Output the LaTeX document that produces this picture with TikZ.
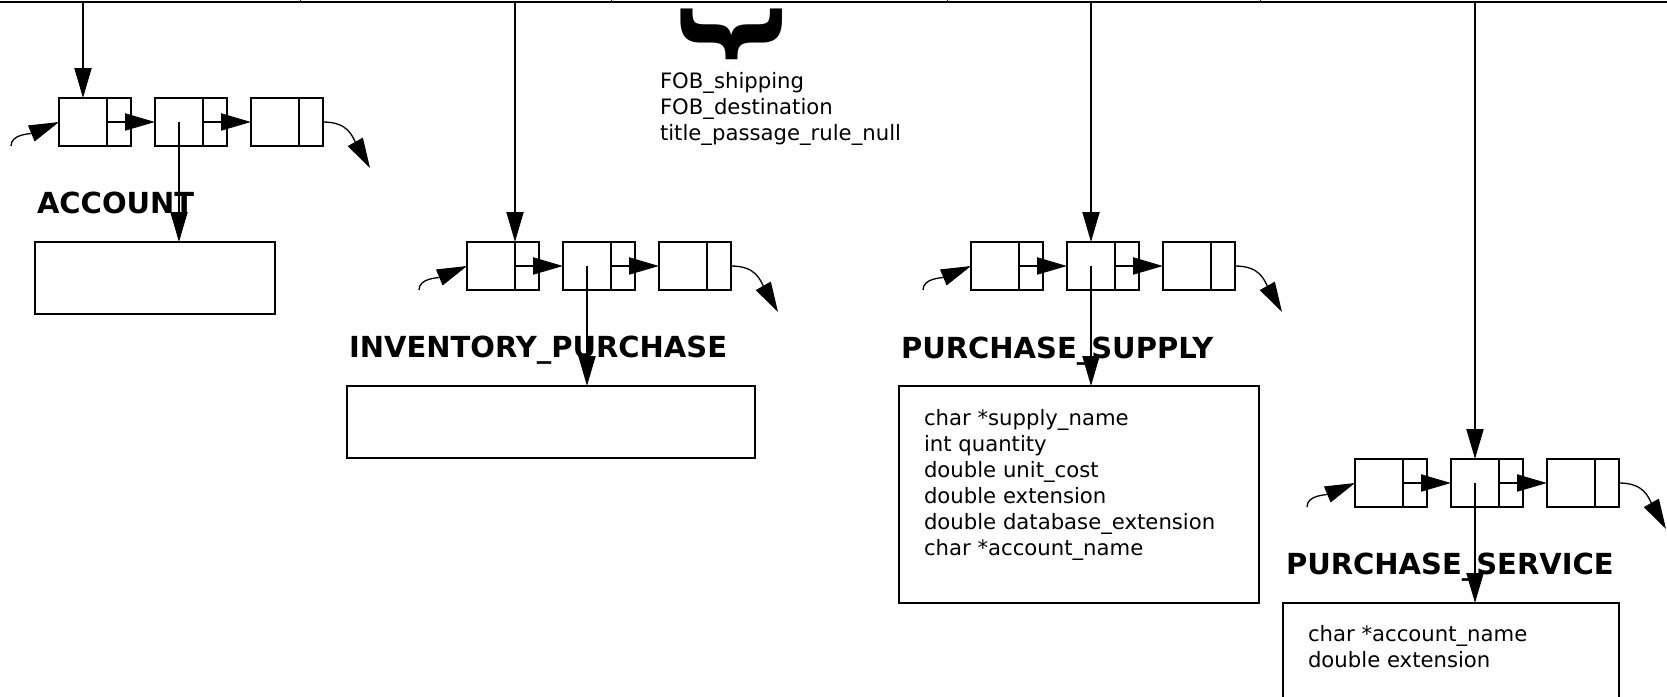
\documentclass[tikz,border=0pt]{standalone}
\usepackage{fontspec}
\setmainfont{DejaVu Sans}
\usetikzlibrary{arrows.meta, positioning}

\tikzset{
	cell/.style = {draw, line width = 2pt, minimum width = 48pt, minimum height = 48pt, inner sep = 0pt, outer sep = 0pt},
	link/.style = {cell, minimum width = 24pt},
	classbox/.style = {draw, line width = 2pt, inner sep = 0pt, outer sep = 0pt, anchor = north west},
	classname/.style = {font = \fontsize{29pt}{35pt}\selectfont\bfseries, inner sep = 0pt, anchor = base west},
	members/.style = {font = \fontsize{21.2pt}{26pt}\selectfont, align = left, inner sep = 0pt, anchor = base west},
	bendarrow/.style = {->, line width = 1.3pt}
}

\begin{document}
\begin{tikzpicture}[x = 1pt, y = -1pt, > = {Triangle[length = 30pt, width = 17pt]}, line width = 2pt]

	\useasboundingbox (0, 0) rectangle (1667, 696);
	\clip (0, 0) rectangle (1667, 696);

	% Top rail
	
	\coordinate (top) at (0, 1.5);
	\draw (top) -- (1667, 1.5);
	\draw [line width = 1pt] (300, -2) -- (300, 1.5) (611, -2) -- (611, 1.5) (947, -2) -- (947, 1.5) (1260, -2) -- (1260, 1.5);
	
	% Brace and its values (base = last line)
	
	\node [rotate = 90, inner sep = 0pt, font = \fontsize{110pt}{110pt}\selectfont\bfseries] (brace) at (732, 34) {\makebox[0.5em]{\{}};
	\node [members] (fob) at (659, 140) {FOB\_shipping\\FOB\_destination\\title\_passage\_rule\_null};

	% Account list
	
	\node [cell] (a1) at (83, 122) {};
	\node [link, right = 0pt of a1] (a1p) {};
	\node [cell, right = 24pt of a1p] (a2) {};
	\node [link, right = 0pt of a2] (a2p) {};
	\node [cell, right = 24pt of a2p] (a3) {};
	\node [link, right = 0pt of a3] (a3p) {};
	\coordinate (ain) at (11, 146);
	\coordinate (aout) at (370, 168);
	
	\draw [->] (a1.north |- top) -- (a1.north);
	\draw [->] (a1p.west) -- (a2.west);
	\draw [->] (a2p.west) -- (a3.west);
	\draw [bendarrow] (ain) .. controls (11, 134) and (30, 134) .. (a1.west);
	\draw [bendarrow] (a3p.east) .. controls (348, 122) and (352, 136) .. (aout);
	
	\node [classname] (accountname) at (36, 213) {ACCOUNT};
	\node [classbox, minimum width = 240pt, minimum height = 72pt] (account) at (35, 242) {};
	\draw [->] (a2.center) -- (a2.center |- account.north);

	% Inventory purchase list
	
	\node [cell] (b1) at (491, 266) {};
	\node [link, right = 0pt of b1] (b1p) {};
	\node [cell, right = 24pt of b1p] (b2) {};
	\node [link, right = 0pt of b2] (b2p) {};
	\node [cell, right = 24pt of b2p] (b3) {};
	\node [link, right = 0pt of b3] (b3p) {};
	\coordinate (bin) at (419, 290);
	\coordinate (bout) at (778, 312);
	
	\draw [->] (b1.north east |- top) -- (b1.north east);
	\draw [->] (b1p.west) -- (b2.west);
	\draw [->] (b2p.west) -- (b3.west);
	\draw [bendarrow] (bin) .. controls (419, 278) and (438, 278) .. (b1.west);
	\draw [bendarrow] (b3p.east) .. controls (756, 266) and (760, 280) .. (bout);
	
	\node [classname] (inventoryname) at (348, 357.5) {INVENTORY\_PURCHASE};
	\node [classbox, minimum width = 408pt, minimum height = 72pt] (inventory) at (347, 386) {};
	\draw [->] (b2.center) -- (b2.center |- inventory.north);

	% Purchase supply list
	
	\node [cell] (c1) at (995, 266) {};
	\node [link, right = 0pt of c1] (c1p) {};
	\node [cell, right = 24pt of c1p] (c2) {};
	\node [link, right = 0pt of c2] (c2p) {};
	\node [cell, right = 24pt of c2p] (c3) {};
	\node [link, right = 0pt of c3] (c3p) {};
	\coordinate (cin) at (923, 290);
	\coordinate (cout) at (1282, 312);
	
	\draw [->] (c2.north |- top) -- (c2.north);
	\draw [->] (c1p.west) -- (c2.west);
	\draw [->] (c2p.west) -- (c3.west);
	\draw [bendarrow] (cin) .. controls (923, 278) and (942, 278) .. (c1.west);
	\draw [bendarrow] (c3p.east) .. controls (1260, 266) and (1264, 280) .. (cout);
	
	\node [classname] (supplyname) at (900, 358) {PURCHASE\_SUPPLY};
	\node [classbox, minimum width = 360pt, minimum height = 217pt] (supply) at (899, 386) {};
	\node [members] (supplymembers) at (923, 555) {char *supply\_name\\int quantity\\double unit\_cost\\double extension\\double database\_extension\\char *account\_name};
	\draw [->] (c2.center) -- (c2.center |- supply.north);

	% Purchase service list
	
	\node [cell] (d1) at (1379, 483) {};
	\node [link, right = 0pt of d1] (d1p) {};
	\node [cell, right = 24pt of d1p] (d2) {};
	\node [link, right = 0pt of d2] (d2p) {};
	\node [cell, right = 24pt of d2p] (d3) {};
	\node [link, right = 0pt of d3] (d3p) {};
	\coordinate (din) at (1307, 507);
	\coordinate (dout) at (1666, 529);
	
	\draw [->] (d2.north |- top) -- (d2.north);
	\draw [->] (d1p.west) -- (d2.west);
	\draw [->] (d2p.west) -- (d3.west);
	\draw [bendarrow] (din) .. controls (1307, 495) and (1326, 495) .. (d1.west);
	\draw [bendarrow] (d3p.east) .. controls (1644, 483) and (1648, 497) .. (dout);
	
	\node [classname] (servicename) at (1285, 574) {PURCHASE\_SERVICE};
	\node [classbox, minimum width = 336pt, minimum height = 130pt] (service) at (1283, 603) {};
	\node [members] (servicemembers) at (1307, 667) {char *account\_name\\double extension};
	\draw [->] (d2.center) -- (d2.center |- service.north);

\end{tikzpicture}
\end{document}
